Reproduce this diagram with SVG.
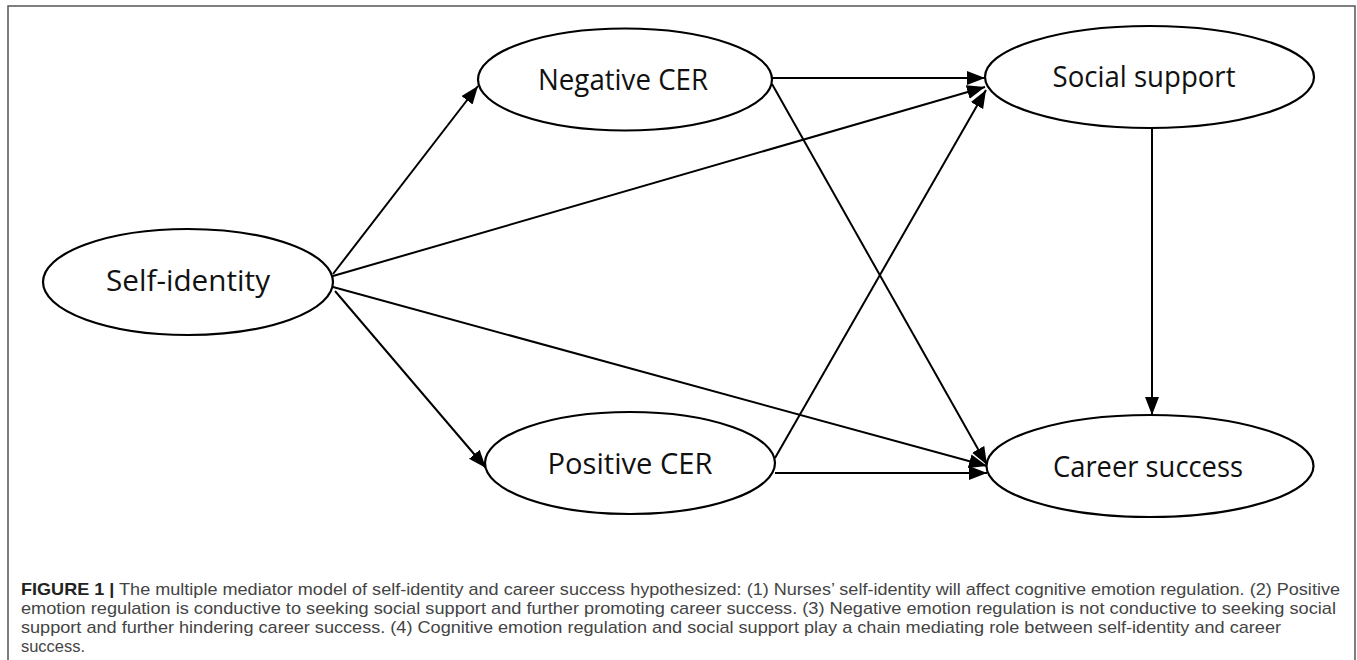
<svg xmlns="http://www.w3.org/2000/svg" width="1357" height="660" viewBox="0 0 1357 660">
<style>
.node ellipse{fill:#fff;stroke:#000;stroke-width:2.2}
.node text{font-family:"Open Sans","Liberation Sans",sans-serif;font-size:30px;fill:#111;text-anchor:middle}
.conn line{stroke:#000;stroke-width:2;marker-end:url(#ah)}
.cap{font-family:"Liberation Sans",Arial,sans-serif;font-size:17px;fill:#444}
.cap .b{font-weight:bold;fill:#222}
</style>
<defs>
<marker id="ah" markerUnits="userSpaceOnUse" markerWidth="19" markerHeight="15" refX="18" refY="7" orient="auto">
<path d="M0,0 L18,7 L0,14 z" fill="#000"/>
</marker>
</defs>
<rect x="8" y="6" width="1347" height="680" fill="#fff" stroke="#555" stroke-width="1.5"/>
<g class="conn">
<line x1="333" y1="274" x2="478" y2="86"/>
<line x1="333" y1="276" x2="985" y2="87"/>
<line x1="333" y1="287" x2="987" y2="466"/>
<line x1="335" y1="291" x2="486" y2="468"/>
<line x1="772" y1="84" x2="987" y2="465"/>
<line x1="775" y1="458" x2="986" y2="90"/>
<line x1="775" y1="473" x2="987" y2="473"/>
<line x1="1152" y1="128" x2="1152" y2="415"/>
<line x1="772" y1="78" x2="985" y2="78"/>
</g>
<g id="self-identity" class="node">
<ellipse cx="188" cy="282" rx="145" ry="53"/>
<text x="188" y="291" textLength="164" lengthAdjust="spacingAndGlyphs">Self-identity</text>
</g>
<g id="negative-cer" class="node">
<ellipse cx="625" cy="79.5" rx="147" ry="51"/>
<text x="623" y="90" textLength="170" lengthAdjust="spacingAndGlyphs">Negative CER</text>
</g>
<g id="positive-cer" class="node">
<ellipse cx="630" cy="463" rx="145" ry="51"/>
<text x="630" y="474" textLength="165" lengthAdjust="spacingAndGlyphs">Positive CER</text>
</g>
<g id="social-support" class="node">
<ellipse cx="1149.5" cy="77" rx="164.5" ry="51"/>
<text x="1144" y="87" textLength="183" lengthAdjust="spacingAndGlyphs">Social support</text>
</g>
<g id="career-success" class="node">
<ellipse cx="1150" cy="466" rx="163.5" ry="51"/>
<text x="1148" y="477" textLength="190" lengthAdjust="spacingAndGlyphs">Career success</text>
</g>
<g id="caption" class="cap">
<text x="21" y="595" textLength="1319" lengthAdjust="spacingAndGlyphs"><tspan class="b">FIGURE 1 |</tspan> The multiple mediator model of self-identity and career success hypothesized: (1) Nurses’ self-identity will affect cognitive emotion regulation. (2) Positive</text>
<text x="21" y="614" textLength="1315" lengthAdjust="spacingAndGlyphs">emotion regulation is conductive to seeking social support and further promoting career success. (3) Negative emotion regulation is not conductive to seeking social</text>
<text x="21" y="633" textLength="1260" lengthAdjust="spacingAndGlyphs">support and further hindering career success. (4) Cognitive emotion regulation and social support play a chain mediating role between self-identity and career</text>
<text x="21" y="652" textLength="64" lengthAdjust="spacingAndGlyphs">success.</text>
</g>
</svg>
